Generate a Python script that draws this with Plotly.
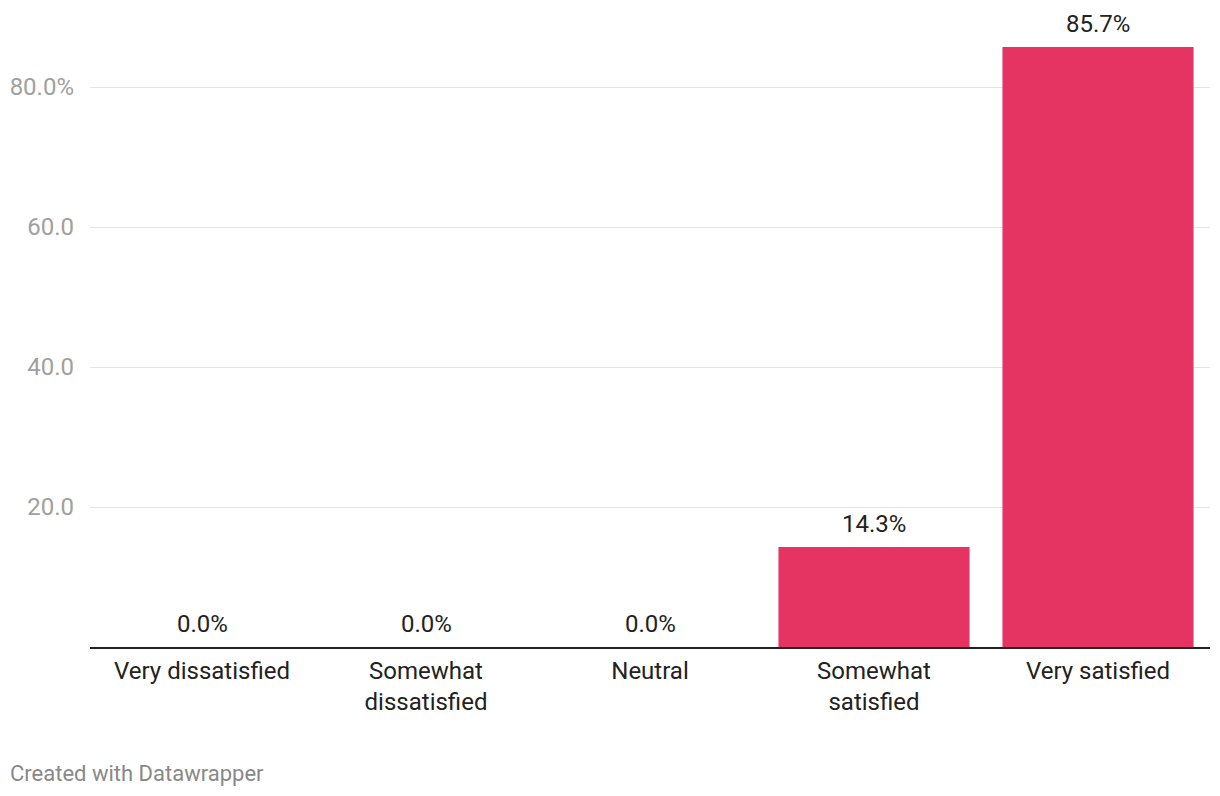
import plotly.graph_objects as go

categories = ["Very dissatisfied", "Somewhat<br>dissatisfied", "Neutral", "Somewhat<br>satisfied", "Very satisfied"]
values = [0.0, 0.0, 0.0, 14.3, 85.7]
ytick_vals = [20, 40, 60, 80]
ytick_text = ["20.0", "40.0", "60.0", "80.0%"]

BAR = "#e63462"
FONT = "Roboto"

fig = go.Figure()
fig.add_trace(go.Bar(
    x=categories, y=values, marker=dict(color=BAR, line=dict(width=0)),
    hoverinfo="skip",
))

for c, v in zip(categories, values):
    fig.add_annotation(
        x=c, y=v, text=f"{v:.1f}%", showarrow=False,
        yanchor="middle", yshift=23,
        font=dict(family=FONT, size=24, color="#222222"),
    )

fig.add_annotation(
    xref="paper", yref="paper", x=0, y=0, xshift=-82, yshift=-126,
    xanchor="left", yanchor="middle",
    text="Created with Datawrapper", showarrow=False,
    font=dict(family=FONT, size=22, color="#888888"),
)

fig.update_layout(
    width=1220, height=796,
    margin=dict(l=90, r=10, t=17, b=149),
    paper_bgcolor="white", plot_bgcolor="white",
    bargap=0.147, showlegend=False,
    font=dict(family=FONT),
    xaxis=dict(
        range=[-0.5, 4.5], showgrid=False, showline=True, linecolor="#222222", linewidth=2,
        ticks="", ticklabelstandoff=1,
        tickfont=dict(family=FONT, size=24, color="#222222"),
    ),
    yaxis=dict(
        range=[0, 90], tickvals=ytick_vals, ticktext=ytick_text,
        showgrid=True, gridcolor="#e3e3e3", gridwidth=1, zeroline=False,
        ticks="", ticklabelstandoff=15,
        tickfont=dict(family=FONT, size=24, color="#a0a0a0"),
    ),
)

fig.write_html("out.html")
